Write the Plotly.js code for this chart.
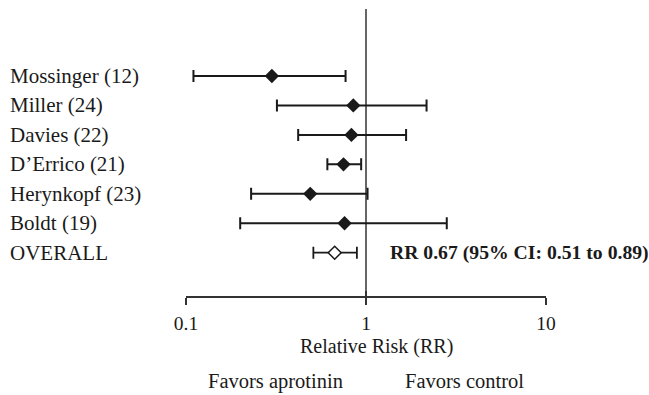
<!DOCTYPE html>
<html>
<head>
<meta charset="utf-8">
<script src="https://cdn.plot.ly/plotly-3.0.1.min.js"></script>
<style>html,body{margin:0;padding:0;background:#fff;}#chart{width:649px;height:395px;}</style>
</head>
<body>
<div id="chart"></div>
<script>
const studies = ["Mossinger (12)", "Miller (24)", "Davies (22)", "D\u2019Errico (21)", "Herynkopf (23)", "Boldt (19)"];
const rr = [0.30, 0.85, 0.83, 0.75, 0.49, 0.76];
const ciLow = [0.11, 0.32, 0.42, 0.61, 0.23, 0.20];
const ciHigh = [0.77, 2.17, 1.67, 0.94, 1.02, 2.81];
const overallLabel = "OVERALL";
const overallRR = 0.67;
const overallLow = 0.51;
const overallHigh = 0.89;
const tickVals = [0.1, 1, 10];
const tickText = ["0.1", "1", "10"];
const xTitle = "Relative Risk (RR)";
const favorsLeft = "Favors aprotinin";
const favorsRight = "Favors control";

const FONT = "'Liberation Serif', 'Times New Roman', Times, serif";
const INK = "#1a1a1a";
const categories = studies.concat([overallLabel]);

const traces = [
  {
    type: "scatter", mode: "markers",
    x: rr, y: studies,
    marker: {symbol: "diamond", size: 11, color: INK},
    error_x: {type: "data", symmetric: false,
      array: rr.map((v, i) => ciHigh[i] - v),
      arrayminus: rr.map((v, i) => v - ciLow[i]),
      color: INK, thickness: 2, width: 6},
    hoverinfo: "x+y", showlegend: false
  },
  {
    type: "scatter", mode: "markers",
    x: [overallRR], y: [overallLabel],
    marker: {symbol: "diamond", size: 10, color: "#ffffff", line: {color: INK, width: 1.5}},
    error_x: {type: "data", symmetric: false,
      array: [overallHigh - overallRR], arrayminus: [overallRR - overallLow],
      color: INK, thickness: 1.8, width: 6},
    hoverinfo: "x+y", showlegend: false
  }
];

const annotations = [];
categories.forEach(c => annotations.push({
  xref: "paper", yref: "y", x: -0.495, y: c, xanchor: "left", yanchor: "middle",
  text: c, showarrow: false, font: {family: FONT, size: 21, color: INK}
}));
annotations.push({
  xref: "paper", yref: "y", x: 0.56, y: overallLabel, xanchor: "left", yanchor: "middle",
  text: "<b>RR " + overallRR.toFixed(2) + " (95% CI: " + overallLow.toFixed(2) + " to " + overallHigh.toFixed(2) + ")</b>",
  showarrow: false, font: {family: FONT, size: 19.7, color: INK}
});
annotations.push({
  xref: "paper", yref: "paper", x: (376.7 - 186) / 360, y: -(346 - 296) / 287,
  xanchor: "center", yanchor: "middle", text: xTitle, showarrow: false,
  font: {family: FONT, size: 20, color: INK}
});
annotations.push({
  xref: "paper", yref: "paper", x: (275 - 186) / 360, y: -(381 - 296) / 287,
  xanchor: "center", yanchor: "middle", text: favorsLeft, showarrow: false,
  font: {family: FONT, size: 20.5, color: INK}
});
annotations.push({
  xref: "paper", yref: "paper", x: (464 - 186) / 360, y: -(381 - 296) / 287,
  xanchor: "center", yanchor: "middle", text: favorsRight, showarrow: false,
  font: {family: FONT, size: 20.5, color: INK}
});

const layout = {
  width: 649, height: 395,
  margin: {l: 186, r: 103, t: 9, b: 99, pad: 0},
  paper_bgcolor: "#ffffff", plot_bgcolor: "#ffffff",
  font: {family: FONT, color: INK},
  xaxis: {
    type: "log", range: [-1, 1], tickvals: tickVals, ticktext: tickText,
    ticks: "outside", ticklen: 7, tickwidth: 1.5, tickcolor: "#333",
    showline: true, linecolor: "#333", linewidth: 1.5, mirror: false,
    showgrid: false, zeroline: false, ticklabelstandoff: 2,
    tickfont: {family: FONT, size: 19.5, color: INK}, fixedrange: true
  },
  xaxis2: {
    type: "log", range: [-1, 1], overlaying: "x", anchor: "y", side: "bottom",
    tickvals: tickVals, ticks: "inside", ticklen: 5, tickwidth: 1.5, tickcolor: "#333",
    showticklabels: false, showline: false, showgrid: false, zeroline: false
  },
  yaxis: {
    type: "category", categoryorder: "array", categoryarray: categories,
    range: [7.47, -2.275], showticklabels: false, ticks: "", showgrid: false,
    zeroline: false, showline: false, fixedrange: true
  },
  shapes: [{
    type: "line", xref: "x", yref: "paper", x0: 1, x1: 1, y0: -7 / 287, y1: 1,
    line: {color: "#333", width: 1.5}, layer: "below"
  }],
  annotations: annotations,
  showlegend: false
};

traces.push({type: "scatter", x: [0.1], y: [overallLabel], xaxis: "x2", mode: "markers",
  marker: {opacity: 0}, hoverinfo: "skip", showlegend: false});

Plotly.newPlot("chart", traces, layout, {displayModeBar: false, staticPlot: true});
</script>
</body>
</html>
